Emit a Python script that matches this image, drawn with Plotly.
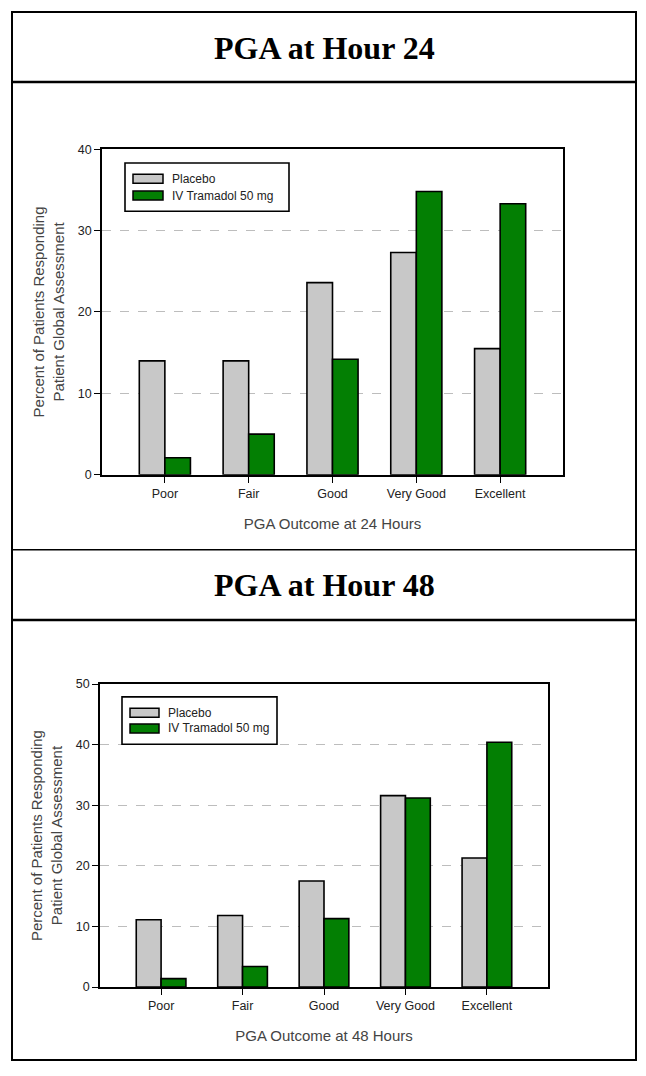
import plotly.graph_objects as go

W, H = 646, 1076

categories = ['Poor', 'Fair', 'Good', 'Very Good', 'Excellent']
series_names = ['Placebo', 'IV Tramadol 50 mg']

placebo_24 = [14.0, 14.0, 23.6, 27.3, 15.5]
tramadol_24 = [2.1, 5.0, 14.2, 34.8, 33.3]
placebo_48 = [11.1, 11.8, 17.5, 31.6, 21.3]
tramadol_48 = [1.4, 3.4, 11.3, 31.2, 40.4]

titles = ['PGA at Hour 24', 'PGA at Hour 48']
x_titles = ['PGA Outcome at 24 Hours', 'PGA Outcome at 48 Hours']
y_title = 'Percent of Patients Responding<br>Patient Global Assessment'
y_max = [40, 50]

colors = ['#c8c8c8', '#037f03']


def px_x(x):
    return x / W


def px_y(y):
    return 1 - y / H


fig = go.Figure()

panels = [
    (placebo_24, tramadol_24, 'x', 'y'),
    (placebo_48, tramadol_48, 'x2', 'y2'),
]
for placebo, tramadol, xa, ya in panels:
    for name, vals, col in zip(series_names, [placebo, tramadol], colors):
        fig.add_trace(go.Bar(x=categories, y=vals, name=name, xaxis=xa, yaxis=ya, showlegend=False,
                             marker=dict(color=col, line=dict(color='black', width=1.6))))

axis_font = dict(family='Arial, Liberation Sans', size=12.5, color='#222')
title_font = dict(family='Arial, Liberation Sans', size=15, color='#444')

common_x = dict(type='category', range=[-0.75, 4.75], showline=True, linecolor='black', linewidth=1.5,
                mirror=True, ticks='outside', ticklen=6, tickcolor='black', tickfont=axis_font,
                showgrid=False, title_font=title_font, title_standoff=19)
common_y = dict(showline=True, linecolor='black', linewidth=1.5, mirror=True, ticks='outside',
                ticklen=6, tickcolor='black', tickfont=axis_font, dtick=10, showgrid=True,
                gridcolor='#bdbdbd', griddash='dash', gridwidth=1.2, zeroline=False,
                title=dict(text=y_title, font=title_font, standoff=10))

fig.update_layout(
    width=W, height=H, margin=dict(l=0, r=0, t=0, b=0),
    paper_bgcolor='white', plot_bgcolor='white',
    barmode='group', bargap=0.39, bargroupgap=0,
    xaxis=dict(common_x, domain=[px_x(102), px_x(563)], anchor='y', title_text=x_titles[0]),
    yaxis=dict(common_y, domain=[px_y(474), px_y(144)], anchor='x', range=[0, y_max[0]]),
    xaxis2=dict(common_x, domain=[px_x(100), px_x(548)], anchor='y2', title_text=x_titles[1]),
    yaxis2=dict(common_y, domain=[px_y(993), px_y(686)], anchor='x2', range=[0, y_max[1]]),
)

# frame boxes around titles and panels
shapes = [
    dict(type='rect', x0=px_x(12), x1=px_x(636), y0=px_y(1067), y1=px_y(5),
         line=dict(color='black', width=2)),
    dict(type='line', x0=px_x(12), x1=px_x(636), y0=px_y(76), y1=px_y(76), line=dict(color='black', width=2.5)),
    dict(type='line', x0=px_x(12), x1=px_x(636), y0=px_y(550), y1=px_y(550), line=dict(color='black', width=1.5)),
    dict(type='line', x0=px_x(12), x1=px_x(636), y0=px_y(621), y1=px_y(621), line=dict(color='black', width=2.5)),
]

# legend boxes drawn by hand (wide swatches like the original)
legend_font = dict(family='Arial, Liberation Sans', size=12, color='#222')
legend_boxes = [
    # box x0, x1, y0, y1, swatch x0, x1, row centres, text x
    (125, 289, 158, 207, 133, 163, [174, 191], 170),
    (122, 277, 699, 747, 130, 159, [715, 731], 166),
]
for bx0, bx1, by0, by1, sx0, sx1, rows, tx in legend_boxes:
    shapes.append(dict(type='rect', x0=px_x(bx0), x1=px_x(bx1), y0=px_y(by1), y1=px_y(by0),
                       fillcolor='white', line=dict(color='black', width=1.6), layer='above'))
    for name, col, yc in zip(series_names, colors, rows):
        shapes.append(dict(type='rect', x0=px_x(sx0), x1=px_x(sx1), y0=px_y(yc + 4.5), y1=px_y(yc - 4.5),
                           fillcolor=col, line=dict(color='black', width=1.5), layer='above'))
        fig.add_annotation(text=name, x=px_x(tx), y=px_y(yc), xref='paper', yref='paper', showarrow=False,
                           xanchor='left', yanchor='middle', font=legend_font)

for s in shapes:
    s.update(xref='paper', yref='paper')
fig.update_layout(shapes=shapes)

for text, yc in zip(titles, [42, 586]):
    fig.add_annotation(text='<b>' + text + '</b>', x=px_x(324), y=px_y(yc), xref='paper', yref='paper',
                       showarrow=False, xanchor='center', yanchor='middle',
                       font=dict(family='Liberation Serif, Times New Roman', size=32, color='black'))

fig.write_html('out.html', config={'displayModeBar': False},
               post_script="document.body.style.margin = '0px';")
